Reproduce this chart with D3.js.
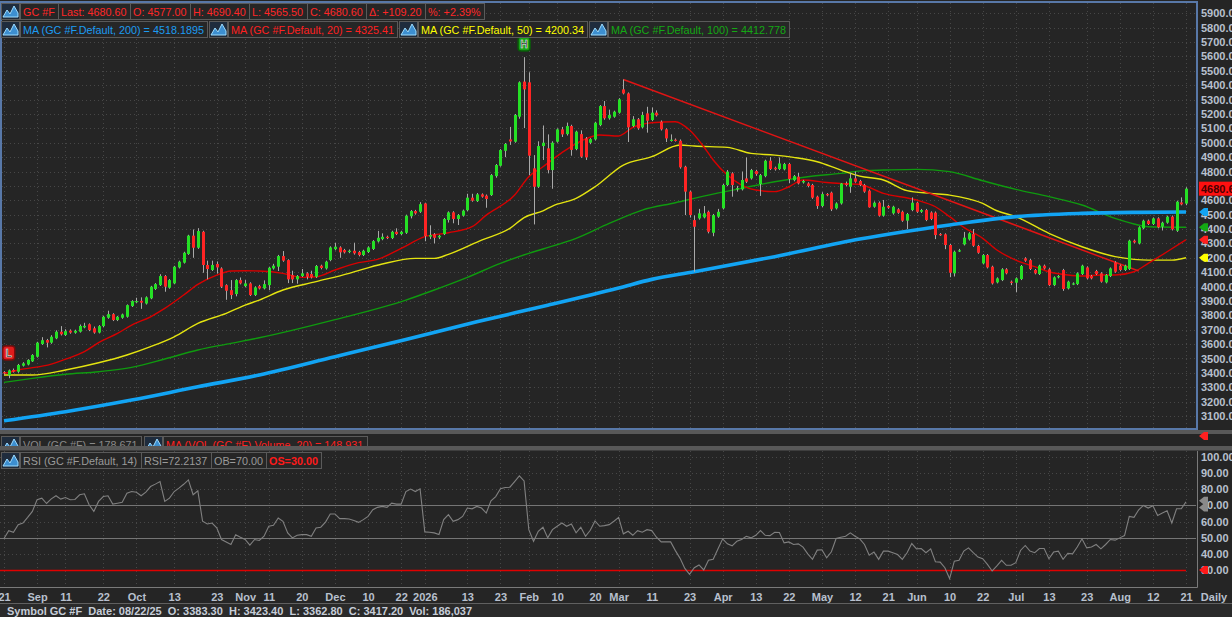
<!DOCTYPE html>
<meta charset="utf-8">
<script src="https://d3js.org/d3.v7.min.js"></script>
<style>
  body { margin: 0; background: #252525; }
  svg { display: block; }
</style>
<div id="chart"></div>
<script>
// daily bars, [open, high, low, close]
const candles = [
  [3405,3412,3388,3398],[3383.3,3423.4,3362.8,3417.2],[3420,3430,3402,3408],[3408,3462,3400,3455],[3450,3474,3444,3466],
  [3458,3495,3452,3490],[3480,3530,3476,3524],[3512,3616,3506,3610],[3600,3648,3594,3627],[3628,3636,3577,3610],
  [3610,3662,3602,3651],[3640,3696,3634,3686],[3686,3725,3660,3668],[3663,3703,3656,3690],[3694,3702,3672,3680],
  [3679,3700,3672,3692],[3686,3736,3680,3726],[3716,3748,3710,3727],[3738,3744,3690,3698],[3710,3722,3672,3680],
  [3680,3732,3674,3725],[3725,3796,3718,3790],[3783,3832,3776,3808],[3808,3815,3760,3767],[3767,3796,3760,3790],
  [3783,3812,3776,3806],[3790,3876,3784,3871],[3864,3905,3858,3899],[3893,3922,3886,3899],[3901,3925,3845,3888],
  [3882,3932,3875,3925],[3918,4005,3912,3999],[3983,4024,3976,4017],[4010,4086,4004,4073],[4073,4080,3964,3999],
  [3992,4052,3985,4045],[4022,4144,4016,4138],[4133,4180,4126,4173],[4166,4242,4160,4235],[4226,4360,4220,4354],
  [4354,4397,4200,4270],[4270,4406,4262,4386],[4381,4388,4096,4150],[4150,4180,4050,4122],[4115,4180,4108,4150],
  [4157,4175,4090,4133],[4126,4134,3990,3999],[4010,4016,3908,3971],[3975,4045,3913,3941],[3948,4052,3932,4045],
  [4045,4063,4015,4022],[4003,4045,3996,4022],[4022,4030,3934,3941],[3941,4002,3934,3994],[4003,4012,3980,3987],
  [3987,4043,3980,4017],[4010,4138,3975,4131],[4126,4158,4118,4145],[4138,4220,4108,4212],[4212,4247,4172,4180],
  [4184,4190,4024,4050],[4080,4110,4024,4050],[4050,4080,4020,4073],[4073,4122,4066,4092],[4092,4100,4050,4068],
  [4087,4110,4056,4064],[4068,4150,4060,4143],[4145,4152,4120,4129],[4126,4180,4118,4173],[4184,4280,4176,4272],
  [4260,4305,4252,4277],[4272,4280,4200,4238],[4254,4262,4230,4238],[4240,4258,4232,4249],[4249,4305,4222,4231],
  [4240,4248,4210,4219],[4219,4256,4212,4249],[4240,4280,4233,4272],[4261,4323,4254,4316],[4314,4387,4306,4339],
  [4330,4370,4322,4346],[4346,4354,4330,4337],[4337,4388,4330,4381],[4381,4405,4358,4365],[4365,4388,4358,4381],
  [4374,4500,4366,4493],[4489,4532,4474,4525],[4525,4533,4500,4509],[4520,4587,4512,4573],[4578,4583,4315,4351],
  [4347,4426,4330,4358],[4363,4372,4300,4339],[4342,4360,4330,4353],[4365,4477,4358,4470],[4463,4523,4445,4516],
  [4516,4524,4440,4470],[4470,4504,4428,4497],[4493,4535,4486,4528],[4531,4645,4524,4618],[4618,4645,4590,4597],
  [4594,4650,4588,4641],[4641,4648,4618,4625],[4632,4640,4548,4609],[4636,4782,4630,4775],[4768,4852,4757,4845],
  [4840,4956,4834,4949],[4944,4998,4900,4991],[5023,5110,4985,5009],[5007,5200,5000,5193],[5181,5427,5167,5420],
  [5425,5595,5102,5371],[5420,5490,4775,4910],[4822,4914,4432,4694],[4694,5010,4686,4977],[4977,5120,4880,5000],
  [4961,5058,4787,4810],[4810,5010,4680,5000],[5007,5100,5000,5093],[5093,5110,5040,5058],[5060,5140,5050,5116],
  [5116,5125,4910,4950],[4956,5084,4948,5077],[5060,5086,4895,4903],[5030,5040,4880,4898],[5000,5032,4990,5025],
  [5023,5146,5015,5139],[5123,5262,5115,5255],[5255,5290,5160,5170],[5170,5230,5160,5193],[5181,5223,5174,5216],
  [5209,5310,5202,5302],[5371,5440,5336,5343],[5343,5350,5005,5107],[5116,5185,5108,5163],[5163,5172,5090,5100],
  [5107,5215,5100,5193],[5204,5250,5070,5153],[5158,5245,5150,5209],[5209,5225,5182,5190],[5146,5155,5085,5093],
  [5093,5100,5005,5030],[5016,5058,5008,5021],[5021,5030,5008,5016],[5014,5023,4820,4829],[4833,4840,4497,4660],
  [4660,4668,4480,4497],[4462,4495,4103,4416],[4474,4540,4465,4509],[4481,4560,4474,4509],[4520,4528,4370,4381],
  [4374,4505,4350,4497],[4486,4540,4478,4520],[4544,4714,4536,4706],[4706,4810,4698,4799],[4787,4795,4625,4706],
  [4678,4700,4660,4684],[4676,4800,4668,4741],[4752,4898,4720,4729],[4752,4818,4744,4810],[4803,4812,4770,4782],
  [4713,4783,4630,4775],[4768,4882,4760,4875],[4875,4900,4810,4817],[4826,4834,4806,4815],[4817,4898,4810,4856],
  [4815,4860,4808,4852],[4852,4860,4720,4748],[4740,4776,4732,4768],[4764,4790,4710,4717],[4724,4742,4716,4734],
  [4717,4725,4690,4699],[4706,4714,4610,4618],[4625,4632,4540,4560],[4560,4656,4552,4643],[4643,4650,4628,4636],
  [4653,4660,4525,4537],[4544,4586,4536,4578],[4578,4720,4570,4717],[4717,4730,4698,4706],[4694,4790,4652,4752],
  [4752,4800,4722,4729],[4734,4742,4698,4706],[4706,4714,4652,4660],[4667,4675,4548,4551],[4555,4592,4548,4583],
  [4583,4592,4486,4493],[4493,4602,4486,4555],[4560,4568,4540,4548],[4509,4562,4500,4555],[4537,4545,4506,4513],
  [4520,4528,4450,4458],[4458,4512,4400,4504],[4532,4620,4524,4583],[4583,4590,4512,4520],[4520,4540,4512,4532],
  [4532,4540,4455,4463],[4515,4523,4462,4470],[4514,4522,4330,4358],[4365,4372,4352,4360],[4363,4370,4260,4289],
  [4289,4296,4065,4096],[4092,4250,4070,4242],[4247,4262,4240,4252],[4293,4380,4286,4340],[4328,4378,4320,4370],
  [4365,4400,4276,4284],[4282,4290,4228,4235],[4161,4226,4154,4219],[4219,4226,4126,4133],[4138,4145,4014,4022],
  [4029,4064,4022,4057],[4045,4128,4038,4120],[4120,4128,4085,4092],[4034,4042,4010,4027],[4027,4064,3960,4057],
  [4052,4150,4045,4143],[4196,4204,4172,4180],[4184,4192,4115,4122],[4115,4122,4085,4092],[4087,4152,4080,4145],
  [4145,4153,4119,4126],[4120,4128,4003,4010],[4010,4071,4003,4064],[4064,4080,4057,4073],[4115,4123,3970,3983],
  [3987,4041,3980,4034],[4017,4029,4010,4022],[4017,4099,4010,4092],[4087,4152,4080,4145],[4133,4141,4050,4057],
  [4073,4081,4050,4057],[4108,4116,4080,4087],[4092,4100,4027,4034],[4029,4087,4022,4080],[4073,4133,4066,4126],
  [4168,4176,4096,4103],[4145,4153,4108,4115],[4115,4152,4108,4145],[4122,4326,4115,4319],[4319,4327,4300,4307],
  [4300,4419,4293,4412],[4405,4465,4398,4458],[4458,4466,4428,4435],[4435,4481,4428,4474],[4474,4482,4405,4412],
  [4416,4451,4390,4444],[4444,4493,4437,4486],[4486,4494,4390,4398],[4388,4597,4380,4590],[4585,4620,4565,4571.4],
  [4577,4690.4,4565.5,4680.6]
];

// moving averages, [bar index, value]
const ma200 = [[0,3067],[13,3130],[27,3211],[41,3303],[54,3385],[70,3512],[85,3632],[100,3755],[115,3870],
  [130,3990],[137,4050],[146,4103],[163,4208],[181,4330],[200,4428],[214,4486],[228,4509],[240,4516],[250,4518.19]];
const ma20 = [[0,3395],[3,3420],[10,3461],[13,3495],[17,3547],[20,3610],[24,3674],[27,3732],[31,3790],[34,3848],
  [38,3941],[41,4015],[45,4080],[48,4108],[51,4110],[54,4108],[59,4092],[63,4064],[66,4068],[70,4115],[75,4166],
  [79,4189],[84,4265],[89,4347],[94,4374],[99,4416],[102,4497],[108,4636],[111,4764],[114,4833],[118,4931],
  [122,5012],[126,5054],[130,5047],[133,5107],[137,5139],[142,5146],[145,5088],[148,4972],[150,4880],[153,4775],
  [156,4706],[159,4671],[163,4660],[166,4694],[169,4741],[174,4724],[177,4717],[181,4710],[186,4648],[193,4602],
  [197,4555],[200,4486],[203,4412],[207,4335],[210,4254],[214,4184],[218,4138],[221,4103],[225,4080],[228,4073],
  [232,4080],[235,4080],[239,4103],[242,4161],[246,4242],[250,4325.41]];
const ma50 = [[0,3385],[6,3385],[13,3420],[20,3470],[26,3524],[31,3582],[36,3651],[41,3744],[47,3814],[51,3871],
  [54,3906],[59,3976],[66,4034],[73,4092],[80,4157],[87,4196],[91,4196],[94,4224],[101,4323],[107,4405],[110,4480],
  [114,4527],[116,4560],[121,4613],[125,4694],[131,4845],[137,4903],[143,4984],[146,4977],[153,4968],[158,4926],
  [163,4914],[167,4898],[172,4868],[177,4810],[181,4768],[186,4741],[191,4667],[196,4648],[200,4636],[207,4578],
  [210,4527],[214,4486],[221,4370],[228,4277],[235,4208],[239,4189],[242,4184],[247,4184],[250,4200.34]];
const ma100 = [[0,3334],[6,3362],[13,3390],[20,3408],[27,3438],[34,3496],[41,3559],[48,3605],[54,3644],[70,3770],
  [85,3906],[91,3976],[98,4064],[105,4161],[111,4231],[114,4261],[121,4335],[128,4439],[135,4532],[142,4583],
  [149,4636],[156,4683],[163,4729],[170,4764],[177,4787],[182,4806],[186,4810],[193,4815],[200,4799],[207,4736],
  [214,4676],[221,4625],[228,4567],[235,4474],[239,4435],[242,4416],[250,4412.778]];
const trendLine = [[131,5440],[240,4108]];

// RSI (14), one value per bar
const rsi = [49.5,54.4,53.4,58.1,59.1,62.6,66.3,73.5,74.5,71.2,74.1,76,73.9,74.9,73.5,73.7,76.6,77.2,70.4,66.3,
  72.5,75.5,76,70.8,71.4,72,77.6,78.6,78.2,76,78.2,81.7,83.2,84.8,72.5,74.5,78.6,80.7,83.1,85.8,
  76.6,79,60.2,58.5,59.1,56.1,48.9,47.4,45.8,51.9,50.3,48.9,45.4,48.9,48.3,50.9,57.1,57.7,62.2,60.2,
  53,49.9,51.5,51.9,51.9,50.9,56,56.5,59.7,64.7,64.7,61.8,61.8,61.6,60.6,59.5,61.2,63.2,67.3,68.8,
  69.4,68.8,71.4,70.8,70.8,78.6,80.1,78.6,80.3,53.6,53.4,53,52,61.2,64.3,60.2,61.2,63.2,68.4,67.9,
  69.4,68.4,65.3,72.9,75.5,80.3,81.1,81.3,84.8,88.3,85.2,55,47.8,54,56.5,49.9,55,57.1,59.1,57.1,
  58.5,53,56.5,50.9,54.6,60.4,57.1,57.5,58.1,60.2,62.6,52.4,54,51.5,54.4,53.4,55,54.4,50.3,47.4,
  47.4,47.4,42,37.2,31,27.3,31.4,33.1,30,36,36.6,43,49.3,46.2,45,47.8,48.9,50.9,49.9,51.5,
  54.4,51.5,51.3,53.4,53.2,46.8,47.4,45.8,46.2,44.2,40,36.6,42.3,42.5,37.6,41.3,49.5,50.3,50.9,53,
  50.9,49.3,45.8,39.2,41.1,36.6,41.7,41.7,40.7,39.6,36.6,40.7,46.4,43.1,43.3,40.7,43.1,35.1,34.9,31.4,
  24.7,35.5,36,41.7,43.7,40.7,38,37,33.5,29.4,32.5,36,32.9,32.9,34.5,42.1,45.2,41.7,40.7,43.3,
  43.3,37,41.1,41.7,36.6,40.3,40,44.2,49.3,43.7,44.2,45.8,43.1,45.8,48.9,48.5,49.9,51.3,63.2,62.6,
  67.3,70,68.4,69.8,63.8,65.3,66.7,59.1,67.9,67.9,72.2137];

// axis labels
const xTicks = [[0,"21"],[7,"Sep"],[13,"11"],[21,"22"],[28,"Oct"],[36,"13"],[45,"23"],[51,"Nov"],[56,"11"],
  [63,"20"],[70,"Dec"],[77,"10"],[84,"22"],[89,"2026"],[98,"13"],[105,"23"],[111,"Feb"],[117,"10"],[125,"20"],
  [130,"Mar"],[137,"11"],[145,"23"],[152,"Apr"],[159,"13"],[166,"22"],[173,"May"],[180,"12"],[187,"21"],
  [193,"Jun"],[200,"10"],[207,"22"],[214,"Jul"],[221,"13"],[229,"23"],[236,"Aug"],[243,"12"],[250,"21"]];
const priceTicks = [3100,3200,3300,3400,3500,3600,3700,3800,3900,4000,4100,4200,4300,4400,4500,4600,4700,
  4800,4900,5000,5100,5200,5300,5400,5500,5600,5700,5800,5900];
const rsiTicks = [30,40,50,60,70,80,90,100];
const rsiLevels = {ob: 70, mid: 50, os: 30};

// legend texts
const headerItems = ["GC #F","Last: 4680.60","O: 4577.00","H: 4690.40","L: 4565.50","C: 4680.60","Δ: +109.20","%: +2.39%"];
const maLegend = [
  {text: "MA (GC #F.Default, 200) = 4518.1895", color: "#1c9cf2"},
  {text: "MA (GC #F.Default, 20) = 4325.41", color: "#ff2020"},
  {text: "MA (GC #F.Default, 50) = 4200.34", color: "#ffff00"},
  {text: "MA (GC #F.Default, 100) = 4412.778", color: "#14a814"}
];
const volLegend = [
  {text: "VOL (GC #F) = 178.671", color: "#8a8a8a"},
  {text: "MA (VOL (GC #F) Volume, 20) = 148.931", color: "#ff2020"}
];
const rsiLegend = ["RSI (GC #F.Default, 14)", "RSI=72.2137", "OB=70.00", "OS=30.00"];
const statusFields = ["Symbol GC #F", "Date: 08/22/25", "O: 3383.30", "H: 3423.40", "L: 3362.80", "C: 3417.20", "Vol: 186,037"];
const markers = [{label: "L", i: 1, p: 3538, fill: "#e01c1c", edge: "#7a0c0c"},
                 {label: "H", i: 110, p: 5687, fill: "#17a317", edge: "#0a5a0a"}];

var width = 1232, height = 617;
var font = "'Liberation Sans', Arial, sans-serif";
var axisColor = "#b8c0ce";
var legendSize = 10.8;

var svg = d3.select("#chart").append("svg")
    .attr("width", width).attr("height", height)
    .style("font-family", font);

svg.append("rect").attr("width", width).attr("height", height).attr("fill", "#252525");

var x = d3.scaleLinear().domain([0, candles.length - 1]).range([4, 1186]);
var y = d3.scaleLinear().domain([3100, 5900]).range([416, 13.3]);
var yr = d3.scaleLinear().domain([30, 100]).range([570, 457]);

var defs = svg.append("defs");
defs.append("clipPath").attr("id", "clipMain")
  .append("rect").attr("x", 2).attr("y", 3).attr("width", 1194).attr("height", 425);
defs.append("clipPath").attr("id", "clipRsi")
  .append("rect").attr("x", 0).attr("y", 451).attr("width", 1196).attr("height", 136);

// ---- main price panel ----
var main = svg.append("g").attr("clip-path", "url(#clipMain)");

main.selectAll("line.hgrid").data(priceTicks).join("line")
    .attr("x1", 2).attr("x2", 1196)
    .attr("y1", d => Math.round(y(d)) + 0.5).attr("y2", d => Math.round(y(d)) + 0.5)
    .attr("stroke", "#474747").attr("stroke-dasharray", "1,3");
main.selectAll("line.vgrid").data(xTicks).join("line")
    .attr("x1", d => Math.round(x(d[0])) + 0.5).attr("x2", d => Math.round(x(d[0])) + 0.5)
    .attr("y1", 3).attr("y2", 428)
    .attr("stroke", "#474747").attr("stroke-dasharray", "1,3");

var maLine = d3.line().x(d => x(d[0])).y(d => y(d[1])).curve(d3.curveMonotoneX);
main.append("path").datum(ma100).attr("d", maLine).attr("fill", "none").attr("stroke", "#0f9a0f").attr("stroke-width", 1.4);
main.append("path").datum(ma50).attr("d", maLine).attr("fill", "none").attr("stroke", "#e4e410").attr("stroke-width", 1.4);
main.append("path").datum(ma20).attr("d", maLine).attr("fill", "none").attr("stroke", "#d80000").attr("stroke-width", 1.4);
main.append("path").datum(trendLine).attr("d", d3.line().x(d => x(d[0])).y(d => y(d[1])))
    .attr("fill", "none").attr("stroke", "#e01414").attr("stroke-width", 1.5);
main.append("path").datum(ma200).attr("d", maLine).attr("fill", "none").attr("stroke", "#12a4f4").attr("stroke-width", 3.6);

// candles
var bars = main.append("g").selectAll("g").data(candles).join("g");
bars.append("line")
    .attr("x1", (d, i) => Math.round(x(i)) + 0.5).attr("x2", (d, i) => Math.round(x(i)) + 0.5)
    .attr("y1", d => y(d[1])).attr("y2", d => y(d[2]))
    .attr("stroke", "#a9a9a9").attr("stroke-width", 1);
bars.append("rect")
    .attr("x", (d, i) => Math.round(x(i)) - 1)
    .attr("width", 3)
    .attr("y", d => y(Math.max(d[0], d[3])))
    .attr("height", d => Math.max(1.2, Math.abs(y(d[0]) - y(d[3]))))
    .attr("fill", d => d[3] >= d[0] ? "#25e025" : "#ff2424");

// L / H badges
var badge = main.selectAll("g.badge").data(markers).join("g")
    .attr("transform", d => "translate(" + x(d.i) + "," + y(d.p) + ")");
badge.append("rect").attr("x", -6).attr("y", -7).attr("width", 12).attr("height", 14).attr("rx", 3)
    .attr("fill", d => d.fill).attr("stroke", d => d.edge).attr("stroke-width", 1.5);
badge.append("text").attr("text-anchor", "middle").attr("y", 4).attr("font-size", 10).attr("font-weight", "bold")
    .attr("fill", "#1a1a1a").attr("stroke", "#f2f2f2").attr("stroke-width", 0.6)
    .text(d => d.label);

// main panel border
svg.append("rect").attr("x", 1).attr("y", 2).attr("width", 1196).attr("height", 427)
    .attr("fill", "none").attr("stroke", "#5878a8").attr("stroke-width", 2);

// price axis
var yAxis = d3.axisRight(y).tickValues(priceTicks).tickFormat(d3.format(".2f")).tickSize(0).tickPadding(0);
var yg = svg.append("g").attr("transform", "translate(1201,0)").call(yAxis);
yg.select(".domain").remove();
yg.attr("font-size", 11).attr("font-family", font);
yg.selectAll("text").attr("fill", axisColor).attr("font-weight", "bold");

// MA markers on the price axis
function arrow(g, yy, color) {
  g.append("path")
    .attr("d", "M1199," + yy + "l5,-4h4v8h-4z")
    .attr("fill", color);
}
var lastMa = [[ma200, "#12a4f4"], [ma100, "#14a814"], [ma20, "#ff2020"], [ma50, "#ffff00"]];
lastMa.forEach(m => arrow(svg, y(m[0][m[0].length - 1][1]), m[1]));

// last price box
var last = candles[candles.length - 1][3];
svg.append("rect").attr("x", 1199).attr("y", y(last) - 7).attr("width", 40).attr("height", 14).attr("fill", "#ff1010");
svg.append("text").attr("x", 1201).attr("y", y(last) + 4).attr("font-size", 11).attr("font-weight", "bold")
    .attr("fill", "#4a0000").text(d3.format(".2f")(last));

// ---- legends ----
function icon(g, x0, y0) {
  g.append("rect").attr("x", x0 + 0.5).attr("y", y0 + 0.5).attr("width", 18).attr("height", 16)
    .attr("fill", "#1f2c3d").attr("stroke", "#5a5a5a");
  g.append("path")
    .attr("d", "M" + (x0 + 2) + "," + (y0 + 14) + "l4,-7l3,4l4,-8l4,7v4z")
    .attr("fill", "#3d8fd0").attr("stroke", "#9fdcff").attr("stroke-width", 1);
}
function cell(g, x0, y0, txt, color, bold) {
  var c = g.append("g");
  var r = c.append("rect").attr("x", x0 + 0.5).attr("y", y0 + 0.5).attr("height", 16)
    .attr("fill", "#262626").attr("stroke", "#5a5a5a");
  var t = c.append("text").attr("x", x0 + 3).attr("y", y0 + 12.5).attr("font-size", legendSize)
    .attr("fill", color).attr("font-weight", bold ? "bold" : "normal").text(txt);
  var w = Math.ceil(t.node().getComputedTextLength()) + 6;
  r.attr("width", w);
  return x0 + w;
}
var leg = svg.append("g");
var cx = 1;
icon(leg, cx, 3); cx += 19;
headerItems.forEach(s => { cx = cell(leg, cx, 3, s, "#ff2626"); });

cx = 1;
maLegend.forEach(m => {
  icon(leg, cx, 21); cx += 19;
  cx = cell(leg, cx, 21, m.text, m.color) + 2;
});

// volume strip (collapsed)
svg.append("rect").attr("x", 0).attr("y", 430).attr("width", 1232).attr("height", 4).attr("fill", "#585858");
var vol = svg.append("g");
vol.append("clipPath").attr("id", "clipVol").append("rect").attr("x", 0).attr("y", 434).attr("width", 1232).attr("height", 12);
var volG = vol.append("g").attr("clip-path", "url(#clipVol)");
cx = 1;
volLegend.forEach(v => {
  icon(volG, cx, 436); cx += 19;
  cx = cell(volG, cx, 436, v.text, v.color) + 3;
});
arrow(svg, 436, "#ff2020");
svg.append("rect").attr("x", 0).attr("y", 446).attr("width", 1232).attr("height", 4.5).attr("fill", "#585858");

// ---- RSI panel ----
var rp = svg.append("g").attr("clip-path", "url(#clipRsi)");
rp.selectAll("line.rgrid").data(rsiTicks.filter(d => d != rsiLevels.ob && d != rsiLevels.mid && d != rsiLevels.os)).join("line")
    .attr("x1", 0).attr("x2", 1196)
    .attr("y1", d => Math.round(yr(d)) + 0.5).attr("y2", d => Math.round(yr(d)) + 0.5)
    .attr("stroke", "#474747").attr("stroke-dasharray", "1,3");
rp.selectAll("line.rv").data(xTicks).join("line")
    .attr("x1", d => Math.round(x(d[0])) + 0.5).attr("x2", d => Math.round(x(d[0])) + 0.5)
    .attr("y1", 451).attr("y2", 587)
    .attr("stroke", "#474747").attr("stroke-dasharray", "1,3");
[rsiLevels.ob, rsiLevels.mid].forEach(v => {
  rp.append("line").attr("x1", 0).attr("x2", 1196).attr("y1", Math.round(yr(v)) + 0.5).attr("y2", Math.round(yr(v)) + 0.5)
    .attr("stroke", "#757575").attr("stroke-width", 1);
});
rp.append("line").attr("x1", 0).attr("x2", x(candles.length - 1))
    .attr("y1", Math.round(yr(rsiLevels.os)) + 0.5).attr("y2", Math.round(yr(rsiLevels.os)) + 0.5)
    .attr("stroke", "#e00000").attr("stroke-width", 1.3);
rp.append("path").datum(rsi)
    .attr("d", d3.line().x((d, i) => x(i)).y(d => yr(d)))
    .attr("fill", "none").attr("stroke", "#808080").attr("stroke-width", 1.1);

// RSI legend
cx = 1;
icon(svg, cx, 452); cx += 19;
rsiLegend.forEach((s, k) => {
  cx = cell(svg, cx, 452, s, k == 3 ? "#ff1a1a" : "#9a9a9a", k == 3);
});

// RSI panel border
svg.append("path").attr("d", "M1197.5,451V587.5H0").attr("fill", "none").attr("stroke", "#7a7a7a");

// RSI axis
var rAxis = d3.axisRight(yr).tickValues(rsiTicks).tickFormat(d3.format(".2f")).tickSize(0).tickPadding(0);
var rg = svg.append("g").attr("transform", "translate(1201,0)").call(rAxis);
rg.select(".domain").remove();
rg.attr("font-size", 11).attr("font-family", font);
rg.selectAll("text").attr("fill", axisColor).attr("font-weight", "bold");
arrow(svg, yr(rsi[rsi.length - 1]) - 1, "#8a8a8a");
arrow(svg, yr(rsiLevels.ob) + 2, "#8a8a8a");
arrow(svg, yr(rsiLevels.os), "#ff1a1a");

// ---- time axis ----
var tickMap = new Map(xTicks);
var xAxis = d3.axisBottom(x).tickValues(xTicks.map(d => d[0])).tickFormat(d => tickMap.get(d)).tickSize(0).tickPadding(0);
var xg = svg.append("g").attr("transform", "translate(0,593)").call(xAxis);
xg.select(".domain").remove();
xg.attr("font-size", 11).attr("font-family", font);
xg.selectAll("text").attr("fill", axisColor).attr("font-weight", "bold");
svg.append("text").attr("x", 1214).attr("y", 601).attr("text-anchor", "middle")
    .attr("font-size", 11).attr("font-weight", "bold").attr("fill", axisColor).text("Daily");

// ---- status bar ----
svg.append("rect").attr("x", 0).attr("y", 604).attr("width", 1232).attr("height", 13).attr("fill", "#2a2a2a");
svg.append("line").attr("x1", 0).attr("x2", 1232).attr("y1", 603.5).attr("y2", 603.5).attr("stroke", "#606060");
svg.append("text").attr("x", 7).attr("y", 615).attr("font-size", 11).attr("font-weight", "bold")
    .attr("fill", "#c6cdd8").style("white-space", "pre")
    .text(statusFields.join("  "));
</script>
